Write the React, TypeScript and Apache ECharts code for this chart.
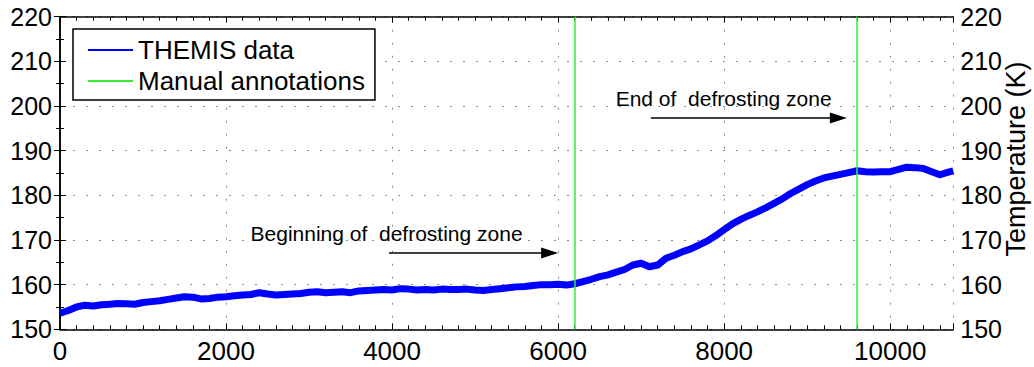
import React, { useEffect, useRef } from "react";
import * as echarts from "echarts";

const sampleX: number[] = [
  0, 100, 200, 300, 400, 500, 600, 700, 800, 900,
  1000, 1100, 1200, 1300, 1400, 1500, 1600, 1700, 1800, 1900,
  2000, 2100, 2200, 2300, 2400, 2500, 2600, 2700, 2800, 2900,
  3000, 3100, 3200, 3300, 3400, 3500, 3600, 3700, 3800, 3900,
  4000, 4100, 4200, 4300, 4400, 4500, 4600, 4700, 4800, 4900,
  5000, 5100, 5200, 5300, 5400, 5500, 5600, 5700, 5800, 5900,
  6000, 6100, 6200, 6300, 6400, 6500, 6600, 6700, 6800, 6900,
  7000, 7100, 7200, 7300, 7400, 7500, 7600, 7700, 7800, 7900,
  8000, 8100, 8200, 8300, 8400, 8500, 8600, 8700, 8800, 8900,
  9000, 9100, 9200, 9300, 9400, 9500, 9600, 9700, 9800, 9900,
  10000, 10100, 10200, 10300, 10400, 10500, 10600, 10700, 10760,
];

const temperature: number[] = [
  153.6, 154.2, 155.0, 155.4, 155.2, 155.5, 155.6, 155.8, 155.7, 155.6,
  156.0, 156.2, 156.4, 156.7, 157.0, 157.3, 157.2, 156.8, 156.9, 157.2,
  157.3, 157.5, 157.7, 157.8, 158.2, 157.9, 157.7, 157.8, 157.9, 158.0,
  158.3, 158.4, 158.2, 158.3, 158.4, 158.2, 158.6, 158.7, 158.8, 158.9,
  158.8, 159.1, 159.0, 158.8, 158.9, 158.8, 159.0, 158.9, 158.9, 159.0,
  158.8, 158.7, 158.9, 159.1, 159.3, 159.5, 159.6, 159.8, 160.0, 160.0,
  160.1, 159.9, 160.2, 160.7, 161.2, 161.8, 162.2, 162.8, 163.4, 164.4,
  164.8, 164.0, 164.4, 165.9, 166.6, 167.4, 168.0, 168.9, 169.8, 171.0,
  172.3, 173.6, 174.6, 175.5, 176.3, 177.2, 178.2, 179.2, 180.4, 181.4,
  182.4, 183.2, 183.9, 184.3, 184.7, 185.1, 185.5, 185.3, 185.2, 185.3,
  185.3, 185.8, 186.3, 186.2, 186.0, 185.3, 184.6, 185.2, 185.5,
];

const annotationX: number[] = [6200, 9600];

const beginText = "Beginning of  defrosting zone";
const endText = "End of  defrosting zone";
// [x, y] text anchor (left, middle) and arrow start/end in data units
const beginTextAt: [number, number] = [2289, 171.5];
const beginArrow: [[number, number], [number, number]] = [[3964, 167.1], [5898, 167.1]];
const endTextAt: [number, number] = [6687, 201.6];
const endArrow: [[number, number], [number, number]] = [[7117, 197.3], [9376, 197.3]];

const xMin = 0;
const xMax = 10760;
const yMin = 150;
const yMax = 220;

const FONT = "'Liberation Sans', Arial, Helvetica, sans-serif";

export default function App() {
  const ref = useRef<HTMLDivElement>(null);

  useEffect(() => {
    if (!ref.current) return;
    const chart = echarts.init(ref.current, undefined, { renderer: "svg" });
    const grid = { left: 60, right: 80.7, top: 16.7, bottom: 37.7 };
    const splitLine = {
      show: true,
      lineStyle: { color: "#8a8a8a", type: [2, 11] as any, width: 1 },
    };
    const axisLine = { show: true, lineStyle: { color: "#000", width: 1.5 } };
    const xBase = {
      type: "value" as const,
      min: xMin,
      max: xMax,
      interval: 2000,
      axisLine,
      axisTick: { show: true, inside: true, length: 6, lineStyle: { color: "#000", width: 1 } },
      minorTick: { show: true, splitNumber: 10, length: 4, lineStyle: { color: "#000", width: 1 } },
    };
    const yBase = {
      type: "value" as const,
      min: yMin,
      max: yMax,
      interval: 10,
      axisLine,
      axisTick: { show: true, inside: true, length: 6, lineStyle: { color: "#000", width: 1 } },
      minorTick: { show: true, splitNumber: 2, length: 4, lineStyle: { color: "#000", width: 1 } },
    };
    const data = sampleX.map((x, i) => [x, temperature[i]]);

    chart.setOption({
      animation: false,
      textStyle: { fontFamily: FONT },
      grid,
      legend: {
        left: 73,
        top: 29,
        orient: "vertical",
        backgroundColor: "#fff",
        borderColor: "#000",
        borderWidth: 1.5,
        borderRadius: 0,
        padding: [8, 10, 6, 15],
        icon: "rect",
        itemWidth: 45,
        itemHeight: 2,
        itemGap: 5,
        itemTextGap: 16,
        textStyle: { fontSize: 26, color: "#000", fontFamily: FONT, lineHeight: 26 },
        data: ["THEMIS data", "Manual annotations"],
        selectedMode: false,
      },
      xAxis: [
        {
          ...xBase,
          position: "bottom",
          splitLine,
          axisLabel: {
            fontSize: 26,
            color: "#000",
            margin: 9,
            fontFamily: FONT,
            formatter: (v: number) => String(v),
          },
        },
        {
          ...xBase,
          position: "top",
          splitLine: { show: false },
          axisLabel: { show: false },
        },
      ],
      yAxis: [
        {
          ...yBase,
          position: "left",
          splitLine,
          axisLabel: { fontSize: 25, color: "#000", margin: 8, fontFamily: FONT },
        },
        {
          ...yBase,
          position: "right",
          splitLine: { show: false },
          axisLabel: { fontSize: 25, color: "#000", margin: 7, fontFamily: FONT },
        },
      ],
      graphic: [
        {
          type: "text",
          x: 1016,
          y: 159,
          rotation: Math.PI / 2,
          style: {
            text: "Temperature (K)",
            font: `27px ${FONT}`,
            fill: "#000",
            textAlign: "center",
            textVerticalAlign: "middle",
          },
        },
      ],
      series: [
        {
          name: "THEMIS data",
          type: "line",
          data,
          showSymbol: false,
          symbol: "none",
          color: "#0000ff",
          lineStyle: { color: "#0000ff", width: 7, join: "round" },
          z: 3,
          markLine: {
            silent: true,
            symbol: ["none", "triangle"],
            symbolSize: [11, 17],
            lineStyle: { color: "#000", width: 1.5, type: "solid" },
            label: { show: false },
            data: [
              [{ coord: beginArrow[0] }, { coord: beginArrow[1] }],
              [{ coord: endArrow[0] }, { coord: endArrow[1] }],
            ],
          },
          markPoint: {
            silent: true,
            symbol: "circle",
            symbolSize: 1,
            itemStyle: { color: "rgba(0,0,0,0)" },
            label: {
              show: true,
              position: "right",
              distance: 0,
              color: "#000",
              fontSize: 21,
              fontFamily: FONT,
            },
            data: [
              { coord: beginTextAt, value: 0, label: { formatter: beginText } },
              { coord: endTextAt, value: 0, label: { formatter: endText } },
            ],
          },
        },
        {
          name: "Manual annotations",
          type: "line",
          data: [],
          showSymbol: false,
          symbol: "none",
          color: "#33ee33",
          lineStyle: { color: "#33ee33", width: 2 },
          markLine: {
            silent: true,
            symbol: ["none", "none"],
            lineStyle: { color: "#33ee33", width: 1.5, type: "solid" },
            label: { show: false },
            data: annotationX.map((x) => ({ xAxis: x })),
          },
        },
      ],
    });
    return () => chart.dispose();
  }, []);

  return <div ref={ref} style={{ width: 1034, height: 367, position: "absolute", left: 0, top: 0 }} />;
}
